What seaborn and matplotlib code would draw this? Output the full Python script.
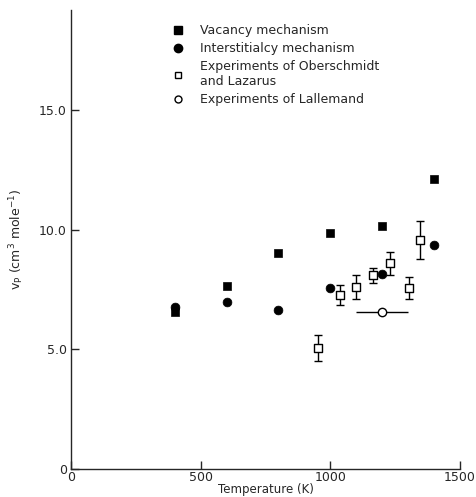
import numpy as np
import pandas as pd
import matplotlib
matplotlib.use("Agg")
import matplotlib.pyplot as plt
from matplotlib.lines import Line2D
import seaborn as sns

# Calculated activation volumes
calc_temp = [400, 600, 800, 1000, 1200, 1400]
vacancy_vp = [6.55, 7.67, 9.04, 9.88, 10.17, 12.14]
interstitialcy_vp = [6.78, 6.97, 6.67, 7.58, 8.15, 9.37]

# Experiments of Oberschmidt and Lazarus
ober_temp = [952, 1039, 1100, 1163, 1229, 1302, 1346]
ober_vp = [5.05, 7.28, 7.60, 8.10, 8.61, 7.58, 9.58]
ober_err = [0.55, 0.40, 0.50, 0.30, 0.48, 0.45, 0.80]

# Experiments of Lallemand
lall_temp = [1200]
lall_vp = [6.57]
lall_terr = [101]

x_ticks = [0, 500, 1000, 1500]
x_ticklabels = ["0", "500", "1000", "1500"]
y_ticks = [0, 5, 10, 15]
y_ticklabels = ["0", "5.0", "10.0", "15.0"]

sns.set_style("ticks")
plt.rcParams["font.family"] = ["DejaVu Sans"]

W, H = 476, 497
fig = plt.figure(figsize=(W / 100, H / 100), dpi=100)
ax = fig.add_axes([71 / W, 28 / H, 389 / W, 459 / H])

calc = pd.DataFrame({"T": calc_temp, "vac": vacancy_vp, "int": interstitialcy_vp})
ober = pd.DataFrame({"T": ober_temp, "vp": ober_vp, "err": ober_err})
lall = pd.DataFrame({"T": lall_temp, "vp": lall_vp, "terr": lall_terr})

# error bars first, markers on top
ax.errorbar(ober["T"], ober["vp"], yerr=ober["err"], fmt="none", ecolor="black",
            elinewidth=1.0, capsize=3, capthick=1.0, zorder=2)
ax.errorbar(lall["T"], lall["vp"], xerr=lall["terr"], fmt="none", ecolor="black",
            elinewidth=1.0, capsize=0, zorder=2)

sns.scatterplot(data=calc, x="T", y="vac", marker="s", s=36, color="black",
                edgecolor="black", ax=ax, zorder=3)
sns.scatterplot(data=calc, x="T", y="int", marker="o", s=40, color="black",
                edgecolor="black", ax=ax, zorder=3)
sns.scatterplot(data=ober, x="T", y="vp", marker="s", s=40, color="white",
                edgecolor="black", linewidth=1.0, ax=ax, zorder=4)
sns.scatterplot(data=lall, x="T", y="vp", marker="o", s=36, color="white",
                edgecolor="black", linewidth=1.0, ax=ax, zorder=4)

ax.set_xlim(0, 1500)
ax.set_ylim(0, 19.2)
ax.set_xticks(x_ticks)
ax.set_xticklabels(x_ticklabels, fontsize=9)
ax.set_yticks(y_ticks)
ax.set_yticklabels(y_ticklabels, fontsize=9)
ax.tick_params(axis="both", direction="in", length=6, width=1.0)
ax.tick_params(axis="x", pad=1.5)
ax.tick_params(axis="y", pad=3)
ax.set_xlabel("Temperature (K)", fontsize=8.5, labelpad=-1)
ax.set_ylabel(r"v$_{\mathrm{P}}$ (cm$^{3}$ mole$^{-1}$)", fontsize=9, labelpad=9)
for s in ["top", "right"]:
    ax.spines[s].set_visible(False)
for s in ["left", "bottom"]:
    ax.spines[s].set_linewidth(1.0)

handles = [
    Line2D([], [], marker="s", linestyle="none", markersize=6, color="black"),
    Line2D([], [], marker="o", linestyle="none", markersize=6, color="black"),
    Line2D([], [], marker="s", linestyle="none", markersize=5, markerfacecolor="white",
           markeredgecolor="black"),
    Line2D([], [], marker="o", linestyle="none", markersize=5, markerfacecolor="white",
           markeredgecolor="black"),
]
labels = [
    "Vacancy mechanism",
    "Interstitialcy mechanism",
    "Experiments of Oberschmidt\nand Lazarus",
    "Experiments of Lallemand",
]
ax.legend(handles, labels, loc="upper left", bbox_to_anchor=(0.245, 0.98),
          frameon=False, fontsize=9, handlelength=1.0, handletextpad=1.3,
          labelspacing=0.4, borderaxespad=0)

fig.savefig("out.png", dpi=100)
